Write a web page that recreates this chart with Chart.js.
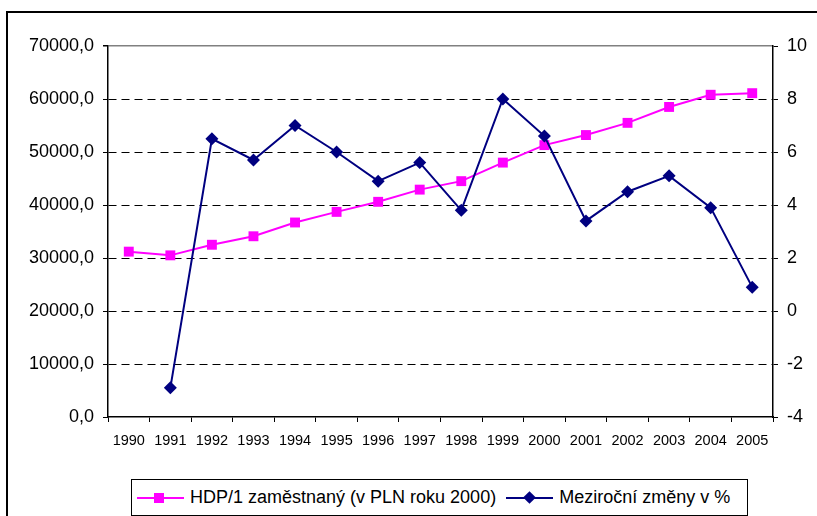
<!DOCTYPE html>
<html>
<head>
<meta charset="utf-8">
<script src="https://cdn.jsdelivr.net/npm/chart.js@4.4.1/dist/chart.umd.min.js"></script>
<style>
  body { margin: 0; background: #fff; }
  #wrap { position: relative; width: 817px; height: 516px; overflow: hidden; font-family: "Liberation Sans", Arial, sans-serif; }
  #frame { position: absolute; left: 6px; top: 11px; width: 900px; height: 600px; border: 2px solid #000; }
  #chart { position: absolute; left: 0; top: 0; }
  #legend { position: absolute; left: 131px; top: 479px; width: 615px; height: 35px; border: 1px solid #000; background: #fff; display: flex; align-items: center; font-size: 18px; color: #000; white-space: nowrap; }
  .item { display: flex; align-items: center; }
  .sym { position: relative; width: 47px; height: 14px; margin-right: 6px; }
  .sym .ln { position: absolute; left: 0; right: 0; top: 6px; height: 2px; }
  .sym .mk { position: absolute; }
</style>
</head>
<body>
<div id="wrap">
  <div id="frame"></div>
  <canvas id="chart" width="817" height="516"></canvas>
  <div id="legend"></div>
</div>
<script>
const years = ['1990', '1991', '1992', '1993', '1994', '1995', '1996', '1997',
  '1998', '1999', '2000', '2001', '2002', '2003', '2004', '2005'];
const hdpPerEmployee = [31200, 30500, 32500, 34100, 36700, 38700, 40600, 42900,
  44500, 48000, 51300, 53200, 55500, 58500, 60800, 61100];
const yearOnYearChange = [null, -2.9, 6.5, 5.7, 7.0, 6.0, 4.9, 5.6,
  3.8, 8.0, 6.6, 3.4, 4.5, 5.1, 3.9, 0.9];
const leftTicks = [0, 10000, 20000, 30000, 40000, 50000, 60000, 70000];
const rightTicks = [-4, -2, 0, 2, 4, 6, 8, 10];
const seriesNames = ['HDP/1 zaměstnaný (v PLN roku 2000)', 'Meziroční změny v %'];
const seriesColors = ['#ff00ff', '#000080'];

const tickFont = { family: "'Liberation Sans', Arial, sans-serif", size: 18 };

new Chart(document.getElementById('chart'), {
  type: 'line',
  data: {
    labels: years,
    datasets: [{
      label: seriesNames[0],
      data: hdpPerEmployee,
      yAxisID: 'y',
      borderColor: seriesColors[0],
      backgroundColor: seriesColors[0],
      borderWidth: 2,
      pointStyle: 'rect',
      pointRadius: 7,
      pointBorderWidth: 0,
      tension: 0,
      order: 1
    }, {
      label: seriesNames[1],
      data: yearOnYearChange,
      yAxisID: 'y1',
      borderColor: seriesColors[1],
      backgroundColor: seriesColors[1],
      borderWidth: 2,
      pointStyle: 'rectRot',
      pointRadius: 6.5,
      pointBorderWidth: 0,
      tension: 0,
      order: 0
    }]
  },
  options: {
    responsive: false,
    animation: false,
    layout: { padding: { top: 46, bottom: 59, left: 0, right: 0 } },
    plugins: { legend: { display: false }, tooltip: { enabled: false } },
    scales: {
      x: {
        offset: true,
        border: { display: true, color: '#000', width: 1.5 },
        grid: { drawOnChartArea: false, drawTicks: true, tickLength: 5, offset: true, color: '#000', tickColor: '#000' },
        ticks: { color: '#000', font: { family: tickFont.family, size: 14.5 }, padding: 10, maxRotation: 0, autoSkip: false },
        afterFit: s => { s.height = 40; }
      },
      y: {
        position: 'left',
        min: 0,
        max: 70000,
        afterBuildTicks: s => { s.ticks = leftTicks.map(v => ({ value: v })); },
        border: {
          display: true, color: '#000', width: 1.5,
          dash: ctx => (ctx.tick && ctx.tick.value === 70000) ? [] : [8, 5]
        },
        grid: {
          drawTicks: true,
          tickLength: 5,
          tickColor: '#000',
          lineWidth: ctx => (ctx.tick && ctx.tick.value === 70000) ? 1.5 : 1,
          color: ctx => {
            const v = ctx.tick && ctx.tick.value;
            if (v === 70000) return '#808080';
            if (v === 0) return 'rgba(0,0,0,0)';
            return '#000';
          }
        },
        ticks: {
          color: '#000',
          font: tickFont,
          padding: 9,
          callback: v => v.toFixed(1).replace('.', ',')
        },
        afterFit: s => { s.width = 108; }
      },
      y1: {
        position: 'right',
        min: -4,
        max: 10,
        afterBuildTicks: s => { s.ticks = rightTicks.map(v => ({ value: v })); },
        border: { display: true, color: '#000', width: 1.5 },
        grid: { drawOnChartArea: false, drawTicks: true, tickLength: 5, tickColor: '#000' },
        ticks: { color: '#000', font: tickFont, padding: 9, callback: v => String(v) },
        afterFit: s => { s.width = 44; }
      }
    }
  }
});

// legend as html, built from the series names and colours
const legend = document.getElementById('legend');
seriesNames.forEach((name, i) => {
  const item = document.createElement('div');
  item.className = 'item';
  item.style.marginLeft = i === 0 ? '5px' : '10px';
  const sym = document.createElement('div');
  sym.className = 'sym';
  const ln = document.createElement('div');
  ln.className = 'ln';
  ln.style.background = seriesColors[i];
  const mk = document.createElement('div');
  mk.className = 'mk';
  mk.style.background = seriesColors[i];
  if (i === 0) {
    mk.style.width = '10px'; mk.style.height = '10px';
    mk.style.left = '17px'; mk.style.top = '2px';
  } else {
    mk.style.width = '9px'; mk.style.height = '9px';
    mk.style.left = '19px'; mk.style.top = '2.5px';
    mk.style.transform = 'rotate(45deg)';
  }
  sym.appendChild(ln);
  sym.appendChild(mk);
  const txt = document.createElement('span');
  txt.textContent = name;
  item.appendChild(sym);
  item.appendChild(txt);
  legend.appendChild(item);
});
</script>
</body>
</html>
